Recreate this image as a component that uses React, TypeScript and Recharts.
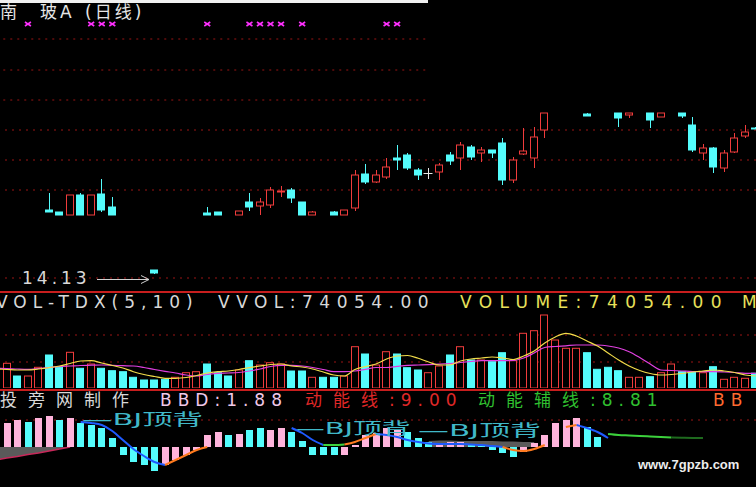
import React from 'react';
import { ComposedChart, Bar, Line, Area, Scatter, XAxis, YAxis, ReferenceLine, CartesianGrid } from 'recharts';

const N = 73;
const RED = '#F03C3C';
const CYAN = '#54FCFC';
const PINK = '#FFB4DC';
const FONT = "'DejaVu Sans', 'Noto Sans CJK SC', sans-serif";

// ---- candles (only the visible ones) ----
const candleIdx = [5, 6, 7, 8, 9, 10, 11, 15, 20, 21, 23, 24, 25, 26, 27, 28, 29, 30, 32, 33, 34, 35, 36, 37, 38, 39, 40, 41, 42, 43, 44, 45, 46, 47, 48, 49, 50, 51, 52, 56, 59, 60, 62, 63, 65, 66, 67, 68, 69, 70, 71, 72];
const candleOpen = [14.81, 14.79, 14.76, 14.96, 14.76, 14.97, 14.84, 14.21, 14.78, 14.79, 14.76, 14.89, 14.85, 14.86, 14.99, 15.01, 14.89, 14.76, 14.79, 14.76, 14.83, 15.17, 15.09, 15.14, 15.33, 15.36, 15.21, 15.18, 15.19, 15.36, 15.33, 15.44, 15.38, 15.41, 15.48, 15.11, 15.37, 15.33, 15.61, 15.77, 15.78, 15.76, 15.78, 15.74, 15.78, 15.66, 15.38, 15.43, 15.23, 15.39, 15.55, 15.63];
const candleHigh = [14.98, 14.79, 14.96, 14.98, 14.96, 15.12, 14.94, 14.21, 14.84, 14.79, 14.80, 14.98, 14.93, 15.04, 15.05, 15.03, 14.89, 14.80, 14.80, 14.81, 15.21, 15.27, 15.21, 15.33, 15.46, 15.38, 15.23, 15.23, 15.28, 15.39, 15.49, 15.46, 15.44, 15.41, 15.53, 15.34, 15.63, 15.64, 15.78, 15.78, 15.78, 15.78, 15.78, 15.78, 15.78, 15.74, 15.47, 15.44, 15.41, 15.58, 15.66, 15.64];
const candleLow = [14.79, 14.76, 14.76, 14.76, 14.76, 14.79, 14.76, 14.17, 14.76, 14.76, 14.76, 14.80, 14.76, 14.83, 14.94, 14.88, 14.76, 14.76, 14.76, 14.76, 14.80, 15.07, 15.08, 15.12, 15.21, 15.21, 15.11, 15.12, 15.11, 15.26, 15.21, 15.31, 15.29, 15.33, 15.06, 15.08, 15.36, 15.23, 15.53, 15.75, 15.64, 15.73, 15.63, 15.74, 15.73, 15.39, 15.31, 15.18, 15.19, 15.38, 15.53, 15.62];
const candleClose = [14.79, 14.76, 14.96, 14.76, 14.96, 14.81, 14.76, 14.18, 14.76, 14.76, 14.80, 14.84, 14.89, 15.01, 15.00, 14.93, 14.76, 14.79, 14.76, 14.81, 15.16, 15.09, 15.16, 15.24, 15.31, 15.23, 15.16, 15.18, 15.26, 15.30, 15.46, 15.34, 15.41, 15.38, 15.11, 15.31, 15.40, 15.54, 15.78, 15.75, 15.73, 15.78, 15.71, 15.78, 15.75, 15.41, 15.43, 15.24, 15.38, 15.53, 15.59, 15.62];
const markIdx = [3, 9, 10, 11, 20, 24, 25, 26, 27, 29, 37, 38];
const markPrice = 16.67;
const priceGrid = [15.61, 15.31, 15.01, 14.13];
const priceGridLeft = [16.52, 16.21, 15.91];

// ---- volume ----
const volume = [98500, 123500, 60000, 60000, 103500, 165000, 103500, 178500, 98500, 120000,
  98500, 86500, 81500, 53500, 40000, 40000, 43500, 53500, 76500, 81500,
  120000, 76500, 60000, 90000, 136500, 115000, 126500, 120000, 85000, 85000,
  53500, 53500, 53500, 60000, 206500, 170000, 115000, 181500, 170000, 101500,
  90000, 76500, 110000, 165000, 206500, 140000, 140000, 131500, 176500, 136500,
  273500, 286500, 365000, 240000, 198500, 198500, 176500, 93500, 103500, 86500,
  53500, 53500, 56500, 76500, 120000, 81500, 81500, 76500, 106500, 43500,
  53500, 48500, 74054];
const volUp = [1, 1, 0, 1, 1, 0, 0, 1, 0, 1,
  0, 0, 0, 0, 0, 0, 0, 1, 1, 1,
  0, 0, 0, 1, 0, 1, 1, 1, 0, 0,
  1, 0, 0, 1, 1, 0, 1, 1, 0, 0,
  0, 1, 1, 0, 1, 0, 1, 0, 0, 1,
  1, 1, 1, 1, 1, 1, 0, 0, 0, 0,
  1, 1, 0, 1, 1, 0, 0, 1, 0, 1,
  1, 1, 0];
const volMa5 = [95000, 92500, 90000, 90000, 95000, 101500, 110000, 122500, 135000, 136500,
  125000, 112500, 100000, 81500, 67500, 57500, 48500, 48500, 52500, 62500,
  75000, 81500, 85000, 92500, 101500, 110000, 117500, 120000, 110000, 105000,
  95000, 80000, 65000, 60000, 92500, 107500, 120000, 145000, 160000, 162500,
  148500, 130000, 115000, 115000, 135000, 145000, 150000, 155000, 150000, 142500,
  160000, 185000, 225000, 255000, 273500, 260000, 235000, 210000, 175000, 140000,
  110000, 87500, 72500, 65000, 67500, 72500, 80000, 85000, 90000, 85000,
  77500, 65000, 60000];
const volMa10 = [98500, 97500, 95000, 93500, 97500, 102500, 107500, 110000, 112500, 114000,
  115000, 113500, 111500, 110000, 102500, 92500, 83500, 75000, 65000, 60000,
  67500, 73500, 75000, 77500, 85000, 95000, 107500, 113500, 113500, 110000,
  102500, 92500, 81500, 81500, 85000, 93500, 102500, 102500, 108500, 113500,
  115000, 116500, 119000, 122500, 127500, 132500, 136500, 136500, 136500, 137500,
  150000, 175000, 202500, 207500, 211000, 215000, 215000, 215000, 210000, 200000,
  181500, 152500, 120000, 90000, 87500, 85000, 82500, 81500, 81500, 80000,
  77500, 73500, 73500];

// ---- BBD indicator ----
const bbd = [null, 2.4, 2.7, 2.5, 2.9, 3.1, 2.7, 2.9, 2.4, 2.2,
  1.9, 0.9, -0.8, -1.5, -1.8, -2.4, -1.8, -1.3, -0.8, -0.3,
  1.2, 1.5, 1.2, 1.3, 1.7, 1.9, 1.7, 1.9, 1.5, 0.6,
  -0.8, -0.8, -0.8, -0.8, 0.2, 1.2, 1.4, 1.9, 1.7, 1.5,
  0.9, 0.5, 0.4, 0.5, 0.5, 0.2, 0.1, -0.3, -0.6, -1.0,
  -0.5, 0.4, 1.2, 2.4, 2.7, 2.9, 2.0, 1.0];
const bbdPink = [0, 1, 1, 0, 1, 1, 0, 1, 0, 0,
  0, 0, 0, 0, 0, 0, 1, 1, 1, 1,
  1, 1, 0, 1, 0, 0, 1, 1, 0, 0,
  0, 0, 0, 1, 1, 1, 1, 1, 1, 0,
  0, 0, 1, 1, 1, 0, 0, 0, 0, 0,
  1, 1, 1, 1, 1, 1, 0, 0];
const blueSegs = [
  { start: 8, vals: [2.5, 2.4, 2.2, 1.6, 0.7, -0.2, -0.9, -1.5, -1.8] },
  { start: 28, vals: [1.9, 1.4, 0.7, 0.2] },
  { start: 36, vals: [1.3, 1.2, 1.0, 0.7, 0.5, 0.35, 0.3, 0.3, 0.3, 0.25, 0.2, 0.1, 0.0] },
  { start: 55, vals: [2.2, 1.9, 1.5, 0.9] },
];
const orangeSegs = [
  { start: 16, vals: [-1.8, -1.3, -0.8, -0.3, 0.0] },
  { start: 33, vals: [0.25, 0.5, 0.9, 1.3] },
  { start: 48, vals: [0.0, -0.3, -0.4, -0.2, 0.2] },
  { start: 54, vals: [2.0, 2.2] },
];
const greenSegs = [
  { start: 31, vals: [0.2, 0.2, 0.25] },
  { start: 58, vals: [1.3, 1.2, 1.15, 1.1, 1.05, 1.0, 0.95] },
];
const darkGreenSegs = [{ start: 64, vals: [0.95, 0.92, 0.9, 0.9] }];
const greyLeftSegs = [{ start: 0, vals: [-1.3, -1.1, -0.95, -0.75, -0.6, -0.4, -0.2, 0] }];
const greyMidSegs = [{ start: 41, vals: [0.6, 0.65, 0.65, 0.6, 0.6, 0.6, 0.6, 0.55, 0.55, 0.5, 0.5] }];

const fromSegs = (segs: { start: number; vals: number[] }[]) => {
  const out: (number | null)[] = new Array(N).fill(null);
  segs.forEach(s => s.vals.forEach((v, k) => { out[s.start + k] = v; }));
  return out;
};
const blue = fromSegs(blueSegs);
const orange = fromSegs(orangeSegs);
const green = fromSegs(greenSegs);
const darkGreen = fromSegs(darkGreenSegs);
const greyLeft = fromSegs(greyLeftSegs);
const greyMid = fromSegs(greyMidSegs);

const rows = Array.from({ length: N }, (_, j) => {
  const c = candleIdx.indexOf(j);
  return {
    idx: j,
    open: c >= 0 ? candleOpen[c] : null,
    close: c >= 0 ? candleClose[c] : null,
    high: c >= 0 ? candleHigh[c] : null,
    low: c >= 0 ? candleLow[c] : null,
    range: c >= 0 ? [candleLow[c], candleHigh[c]] : null,
    mark: markIdx.includes(j) ? markPrice : null,
    vol: volume[j],
    up: volUp[j] === 1,
    ma5: volMa5[j],
    ma10: volMa10[j],
    bbd: bbd[j] ?? null,
    pink: bbdPink[j] === 1,
    blue: blue[j],
    orange: orange[j],
    green: green[j],
    darkGreen: darkGreen[j],
    greyLeft: greyLeft[j],
    greyMid: greyMid[j],
  };
});

const CandleShape = (props: any) => {
  const { x, y, width, height, payload } = props;
  if (!payload || payload.high == null || height == null) return <g />;
  const { open, close, high, low } = payload;
  const span = high - low || 1;
  const py = (p: number) => y + ((high - p) / span) * height;
  const cx = Math.round(x + width / 2) + 0.5;
  const up = close > open;
  const flat = close === open;
  const color = flat ? '#E8E8E8' : up ? RED : CYAN;
  const top = py(Math.max(open, close));
  const bot = py(Math.min(open, close));
  const left = Math.round(x) + 0.5;
  const w = Math.round(width) - 1;
  return (
    <g>
      <line x1={cx} x2={cx} y1={y} y2={y + height} stroke={color} />
      {flat ? (
        <line x1={left - 1} x2={left + w + 1} y1={Math.round(top) + 0.5} y2={Math.round(top) + 0.5} stroke={color} />
      ) : (
        <rect x={left} y={top} width={w} height={Math.max(1, bot - top)} fill={up ? '#000' : color} stroke={color} />
      )}
    </g>
  );
};

const VolShape = (props: any) => {
  const { x, y, width, height, payload } = props;
  if (!payload || height == null) return <g />;
  const left = Math.round(x) + 0.5;
  const w = Math.round(width) - 1;
  return payload.up ? (
    <rect x={left} y={y} width={w} height={height} fill="#000" stroke={RED} />
  ) : (
    <rect x={left} y={y} width={w} height={height} fill={CYAN} stroke={CYAN} />
  );
};

const BbdShape = (props: any) => {
  const { x, y, width, height, payload } = props;
  if (!payload || payload.bbd == null || height == null) return <g />;
  const top = Math.min(y, y + height);
  const h = Math.abs(height);
  return <rect x={Math.round(x)} y={top} width={Math.round(width)} height={h} fill={payload.pink ? PINK : CYAN} />;
};

const Cross = (props: any) => {
  const { cx, cy, payload } = props;
  if (!payload || payload.mark == null || cx == null || cy == null || isNaN(cy)) return <g />;
  return (
    <g stroke="#FF30FF" strokeWidth={1.6}>
      <line x1={cx - 3} y1={cy - 2} x2={cx + 3} y2={cy + 2} />
      <line x1={cx - 3} y1={cy + 2} x2={cx + 3} y2={cy - 2} />
    </g>
  );
};

const chartBox = (top: number): React.CSSProperties => ({ position: 'absolute', left: -9, top });

const Txt: React.FC<{ left: number; top: number; color: string; ls?: number; size?: number; children: React.ReactNode }> = ({ left, top, color, ls = 6, size = 17, children }) => (
  <div style={{ position: 'absolute', left, top, color, fontSize: size, lineHeight: `${size}px`, whiteSpace: 'pre', fontFamily: FONT, letterSpacing: ls }}>
    {children}
  </div>
);
const Cjk: React.FC<{ children: React.ReactNode }> = ({ children }) => <span style={{ letterSpacing: 11 }}>{children}</span>;

const Label: React.FC<{ left: number; top: number; scale: number }> = ({ left, top, scale }) => (
  <div style={{ position: 'absolute', left, top, color: '#40B8C8', fontSize: 16, lineHeight: '16px', whiteSpace: 'pre', fontFamily: FONT, transform: `scaleX(${scale})`, transformOrigin: 'left top' }}>
    —BJ顶背
  </div>
);

export default function App() {
  return (
    <div style={{ position: 'absolute', left: 0, top: 0, width: 756, height: 487, background: '#000', overflow: 'hidden' }}>
      {/* price panel */}
      <div style={chartBox(0)}>
        <ComposedChart width={770} height={292} data={rows} margin={{ top: 14, right: 0, bottom: 14, left: 0 }}>
          <CartesianGrid horizontalValues={priceGrid} vertical={false} stroke="#9A1414" strokeDasharray="2 5" />
          <XAxis dataKey="idx" hide />
          <YAxis hide domain={[14.13, 16.77]} allowDataOverflow />
          {priceGridLeft.map(p => (
            <ReferenceLine key={p} segment={[{ x: 0, y: p }, { x: 41, y: p }]} stroke="#9A1414" strokeDasharray="2 5" />
          ))}
          <Bar dataKey="range" barSize={8} shape={CandleShape} isAnimationActive={false} />
          <Scatter dataKey="mark" shape={Cross} isAnimationActive={false} />
        </ComposedChart>
      </div>

      {/* volume panel */}
      <div style={chartBox(292)}>
        <ComposedChart width={770} height={98} data={rows} margin={{ top: 16, right: 0, bottom: 2, left: 0 }}>
          <CartesianGrid horizontalValues={[265000, 130000]} vertical={false} stroke="#9A1414" strokeDasharray="2 5" />
          <XAxis dataKey="idx" hide />
          <YAxis hide domain={[0, 400000]} allowDataOverflow />
          <Bar dataKey="vol" barSize={8} shape={VolShape} isAnimationActive={false} />
          <Line dataKey="ma10" type="monotone" stroke="#E040E0" strokeWidth={1.2} dot={false} isAnimationActive={false} />
          <Line dataKey="ma5" type="monotone" stroke="#F2DC4A" strokeWidth={1.2} dot={false} isAnimationActive={false} />
        </ComposedChart>
      </div>

      {/* BBD panel */}
      <div style={chartBox(390)}>
        <ComposedChart width={770} height={97} data={rows} margin={{ top: 7, right: 0, bottom: 0, left: 0 }}>
          <CartesianGrid horizontalValues={[2.7]} vertical={false} stroke="#9A1414" strokeDasharray="2 5" />
          <XAxis dataKey="idx" hide />
          <YAxis hide domain={[-4, 5]} allowDataOverflow />
          <Area dataKey="greyLeft" type="linear" stroke="#C8285A" strokeWidth={1.5} fill="#5A5A5A" fillOpacity={1} baseValue={0} isAnimationActive={false} />
          <Area dataKey="greyMid" type="linear" stroke="none" fill="#5A5A5A" fillOpacity={1} baseValue={0} isAnimationActive={false} />
          <Bar dataKey="bbd" barSize={7} shape={BbdShape} isAnimationActive={false} />
          <Line dataKey="blue" type="monotone" stroke="#1E5AFF" strokeWidth={2} dot={false} isAnimationActive={false} />
          <Line dataKey="orange" type="monotone" stroke="#FF7A1E" strokeWidth={2} dot={false} isAnimationActive={false} />
          <Line dataKey="green" type="monotone" stroke="#3CD23C" strokeWidth={2} dot={false} isAnimationActive={false} />
          <Line dataKey="darkGreen" type="monotone" stroke="#1E6A1E" strokeWidth={2} dot={false} isAnimationActive={false} />
        </ComposedChart>
      </div>

      {/* frame and separators */}
      <div style={{ position: 'absolute', left: 0, top: 0, width: 428, height: 3, background: '#F0F0F0' }} />
      <div style={{ position: 'absolute', left: 0, top: 291, width: 756, height: 2, background: '#C81E1E' }} />
      <div style={{ position: 'absolute', left: 0, top: 389, width: 756, height: 2, background: '#C81E1E' }} />

      {/* title */}
      <Txt left={0} top={4} color="#E6E6E6" ls={0}>南</Txt>
      <Txt left={40} top={4} color="#E6E6E6" ls={3}>玻A</Txt>
      <Txt left={85} top={4} color="#E6E6E6" ls={3}>(日线)</Txt>

      {/* low price annotation */}
      <Txt left={22} top={270} color="#D8D8D8" ls={4}>14.13</Txt>
      <svg style={{ position: 'absolute', left: 97, top: 274 }} width={56} height={10}>
        <line x1={0} y1={5.5} x2={52} y2={5.5} stroke="#D0D0D0" />
        <polyline points="44,1.5 52,5.5 44,9.5" fill="none" stroke="#D0D0D0" />
      </svg>

      {/* volume title */}
      <Txt left={-4} top={294} color="#D8D8D8">VOL-TDX(5,10)</Txt>
      <Txt left={218} top={294} color="#D8D8D8" ls={6.5}>VVOL:74054.00</Txt>
      <Txt left={460} top={294} color="#E8E05A" ls={7.4}>VOLUME:74054.00</Txt>
      <Txt left={742} top={294} color="#E8E05A">M</Txt>

      {/* indicator title */}
      <Txt left={0} top={392} color="#D8D8D8"><Cjk>投旁网制作</Cjk></Txt>
      <Txt left={160} top={392} color="#F0C8E8">BBD:1.88</Txt>
      <Txt left={305} top={392} color="#E02828"><Cjk>动能线</Cjk>:9.00</Txt>
      <Txt left={478} top={392} color="#30C030"><Cjk>动能辅线</Cjk>:8.81</Txt>
      <Txt left={713} top={392} color="#FF6A30">BB</Txt>

      <Label left={82} top={412} scale={1.9} />
      <Label left={296} top={421} scale={1.8} />
      <Label left={418} top={423} scale={1.93} />

      <div style={{ position: 'absolute', left: 638, top: 457, color: '#EDEDED', fontSize: 13, fontWeight: 700, fontFamily: "'Liberation Sans', Arial, sans-serif" }}>
        www.7gpzb.com
      </div>
    </div>
  );
}
